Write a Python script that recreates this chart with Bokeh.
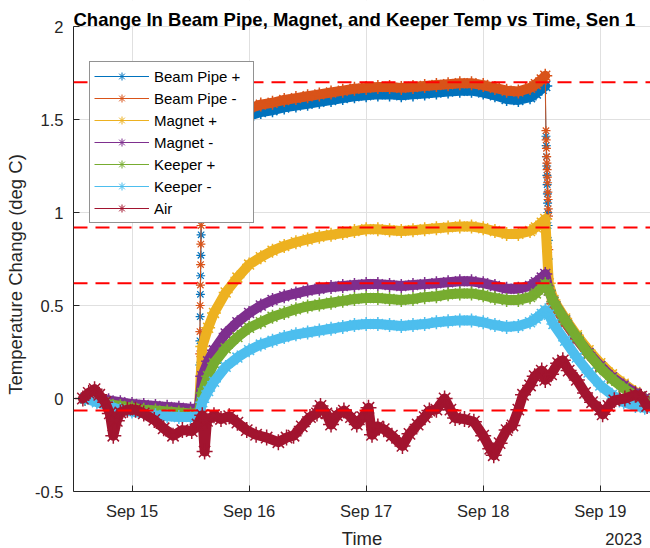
import numpy as np
from datetime import datetime, timedelta
from bokeh.plotting import figure
from bokeh.models import (ColumnDataSource, Range1d, FixedTicker, DatetimeTickFormatter,
                          CustomJSTickFormatter, Span, Legend, LegendItem, Label, BoxAnnotation)
from bokeh.embed import file_html
from bokeh.resources import INLINE

NAN = float("nan")

# ---------------- data (time = fractional day of September 2023) ----------------
t_main = [14.60, 14.70, 14.80, 14.90, 15.00, 15.10, 15.20, 15.30, 15.40, 15.50, 15.57,
          15.60, 15.65, 15.70, 15.80, 15.90, 16.00, 16.10, 16.20, 16.30, 16.40, 16.50,
          16.60, 16.70, 16.80, 16.90, 17.00, 17.10, 17.20, 17.30, 17.40, 17.50, 17.60,
          17.70, 17.80, 17.90, 18.00, 18.10, 18.20, 18.30, 18.40, 18.45, 18.50, 18.53,
          18.56, 18.60, 18.70, 18.80, 18.90, 19.00, 19.10, 19.20, 19.30, 19.38]

beam_pipe_plus = [0.00, -0.01, -0.02, -0.03, -0.04, -0.05, -0.055, -0.06, -0.065, -0.07, -0.07,
                  NAN, 1.47, 1.48, 1.49, 1.50, 1.52, 1.54, 1.55, 1.565, 1.575, 1.585,
                  1.595, 1.605, 1.615, 1.625, 1.63, 1.635, 1.635, 1.63, 1.635, 1.64, 1.645,
                  1.65, 1.655, 1.655, 1.645, 1.63, 1.61, 1.605, 1.62, 1.64, 1.665, 1.68,
                  NAN, 0.51, 0.41, 0.32, 0.24, 0.17, 0.11, 0.06, 0.02, 0.00]

beam_pipe_minus = [0.00, -0.01, -0.02, -0.03, -0.04, -0.05, -0.055, -0.06, -0.065, -0.07, -0.07,
                   NAN, 1.51, 1.52, 1.53, 1.545, 1.56, 1.58, 1.59, 1.605, 1.615, 1.625,
                   1.635, 1.645, 1.655, 1.665, 1.67, 1.675, 1.675, 1.67, 1.675, 1.68, 1.685,
                   1.69, 1.695, 1.695, 1.685, 1.67, 1.655, 1.65, 1.67, 1.69, 1.715, 1.735,
                   NAN, 0.51, 0.41, 0.32, 0.24, 0.17, 0.11, 0.06, 0.02, 0.00]

magnet_plus = [0.00, -0.01, -0.02, -0.035, -0.045, -0.05, -0.06, -0.065, -0.07, -0.075, -0.075,
               0.28, 0.38, 0.46, 0.57, 0.65, 0.72, 0.76, 0.795, 0.82, 0.84, 0.855,
               0.87, 0.88, 0.89, 0.90, 0.91, 0.91, 0.905, 0.90, 0.905, 0.91, 0.915,
               0.92, 0.925, 0.925, 0.915, 0.90, 0.885, 0.885, 0.90, 0.92, 0.945, 0.965,
               0.62, 0.53, 0.43, 0.34, 0.26, 0.19, 0.13, 0.08, 0.035, 0.00]

magnet_minus = [0.00, 0.00, -0.01, -0.02, -0.03, -0.035, -0.04, -0.045, -0.05, -0.055, -0.055,
                0.12, 0.20, 0.26, 0.35, 0.41, 0.46, 0.50, 0.53, 0.55, 0.565, 0.58,
                0.59, 0.60, 0.605, 0.61, 0.615, 0.615, 0.61, 0.605, 0.61, 0.615, 0.62,
                0.625, 0.63, 0.63, 0.62, 0.605, 0.59, 0.59, 0.605, 0.625, 0.65, 0.67,
                0.58, 0.52, 0.42, 0.325, 0.245, 0.175, 0.115, 0.07, 0.03, 0.00]

keeper_plus = [0.00, -0.01, -0.03, -0.04, -0.05, -0.06, -0.065, -0.07, -0.075, -0.08, -0.08,
               0.03, 0.12, 0.19, 0.27, 0.33, 0.38, 0.41, 0.44, 0.46, 0.48, 0.495,
               0.505, 0.515, 0.525, 0.535, 0.54, 0.54, 0.535, 0.53, 0.535, 0.545, 0.55,
               0.56, 0.565, 0.565, 0.555, 0.54, 0.53, 0.53, 0.545, 0.565, 0.595, 0.615,
               0.58, 0.52, 0.42, 0.33, 0.24, 0.165, 0.105, 0.055, 0.015, -0.01]

keeper_minus = [0.00, -0.02, -0.04, -0.06, -0.07, -0.08, -0.09, -0.095, -0.10, -0.10, -0.095,
                -0.02, 0.04, 0.09, 0.17, 0.22, 0.26, 0.29, 0.31, 0.33, 0.345, 0.355,
                0.365, 0.375, 0.385, 0.395, 0.40, 0.40, 0.395, 0.39, 0.395, 0.40, 0.41,
                0.415, 0.42, 0.42, 0.41, 0.395, 0.385, 0.39, 0.41, 0.43, 0.455, 0.475,
                0.45, 0.40, 0.31, 0.22, 0.14, 0.07, 0.02, -0.02, -0.04, -0.05]

# fast transients of the beam pipe sensors
t_rise = [15.57, 15.578, 15.580, 15.582, 15.584, 15.586, 15.588, 15.590, 15.592, 15.594,
          15.596, 15.598, 15.600, 15.65]
beam_pipe_plus_rise = [-0.07, 0.18, 0.31, 0.44, 0.56, 0.66, 0.77, 0.88, 0.98, 1.10,
                       1.21, 1.32, 1.42, 1.47]
beam_pipe_minus_rise = [-0.07, 0.24, 0.36, 0.50, 0.61, 0.72, 0.83, 0.93, 1.04, 1.16,
                        1.27, 1.37, 1.46, 1.51]
t_fall = [18.53, 18.536, 18.538, 18.540, 18.542, 18.544, 18.546, 18.548, 18.550, 18.552,
          18.554, 18.556, 18.558, 18.560, 18.60]
beam_pipe_plus_fall = [1.68, 1.41, 1.36, 1.30, 1.25, 1.20, 1.15, 1.10, 1.05, 1.00,
                       0.93, 0.85, 0.75, 0.64, 0.51]
beam_pipe_minus_fall = [1.735, 1.44, 1.39, 1.345, 1.30, 1.265, 1.23, 1.19, 1.16, 1.11,
                        1.07, 1.02, 0.98, 0.80, 0.51]

t_air = [14.58, 14.63, 14.68, 14.72, 14.77, 14.81, 14.84, 14.87, 14.90, 14.96, 15.03, 15.10,
         15.19, 15.27, 15.35, 15.43, 15.51, 15.56, 15.60, 15.62, 15.64, 15.70, 15.76, 15.83,
         15.90, 15.98, 16.06, 16.15, 16.25, 16.32, 16.38, 16.45, 16.52, 16.58, 16.61, 16.66,
         16.70, 16.75, 16.81, 16.87, 16.92, 16.97, 17.02, 17.05, 17.10, 17.15, 17.22, 17.31,
         17.37, 17.44, 17.50, 17.54, 17.60, 17.67, 17.72, 17.76, 17.84, 17.92, 18.00, 18.06,
         18.09, 18.14, 18.20, 18.25, 18.30, 18.34, 18.40, 18.44, 18.50, 18.53, 18.58, 18.64,
         18.68, 18.73, 18.80, 18.87, 18.93, 19.00, 19.02, 19.07, 19.12, 19.21, 19.30, 19.35,
         19.40]
air = [0.00, 0.03, 0.05, 0.02, -0.02, -0.08, -0.20, -0.12, -0.075, -0.06, -0.06, -0.08,
       -0.115, -0.16, -0.20, -0.17, -0.175, -0.14, -0.09, -0.285, -0.12, -0.09, -0.11, -0.095,
       -0.13, -0.17, -0.195, -0.21, -0.235, -0.21, -0.20, -0.15, -0.10, -0.08, -0.04, -0.08,
       -0.14, -0.09, -0.065, -0.10, -0.14, -0.10, -0.05, -0.195, -0.15, -0.165, -0.20, -0.255,
       -0.19, -0.14, -0.10, -0.065, -0.06, 0.00, -0.06, -0.105, -0.11, -0.125, -0.20, -0.27,
       -0.305, -0.24, -0.17, -0.145, -0.06, 0.02, 0.07, 0.12, 0.15, 0.10, 0.13, 0.19,
       0.205, 0.15, 0.10, 0.03, -0.02, -0.06, -0.085, -0.04, -0.01, 0.00, 0.02, 0.01,
       -0.04]

ref_levels = [1.70, 0.92, 0.62, -0.065]

series_names = ["Beam Pipe +", "Beam Pipe -", "Magnet +", "Magnet -", "Keeper +", "Keeper -", "Air"]
series_colors = ["#0072BD", "#D95319", "#EDB120", "#7E2F8E", "#77AC30", "#4DBEEE", "#A2142F"]

x_ticks_days = [15, 16, 17, 18, 19]
y_ticks = [-0.5, 0, 0.5, 1, 1.5, 2]
Y_MIN, Y_MAX = -0.5, 2.0
X_MIN_DAY, X_MAX_DAY = 14.5, 19.429


def day(t):
    return datetime(2023, 9, 1) + timedelta(days=t - 1)


def to_ms(dt):
    return (dt - datetime(1970, 1, 1)).total_seconds() * 1000.0


FONT = "Liberation Sans"
AX = "#262626"

W, H = 650, 548
LEFT = 73
TOP_PAD, BOTTOM_PAD = 26, 57          # pixels of the frame above Y_MAX / below Y_MIN
ppu = (H - TOP_PAD - BOTTOM_PAD) / (Y_MAX - Y_MIN)

p = figure(width=W, height=H, x_axis_type="datetime",
           x_range=Range1d(day(X_MIN_DAY), day(X_MAX_DAY)),
           y_range=Range1d(Y_MIN - BOTTOM_PAD / ppu, Y_MAX + TOP_PAD / ppu),
           output_backend="svg", toolbar_location=None,
           min_border_left=LEFT, min_border_right=0, min_border_top=0, min_border_bottom=0)
p.outline_line_color = None
p.background_fill_color = "white"
p.border_fill_color = "white"

# axes
xt = [to_ms(day(d)) for d in x_ticks_days]
p.xaxis.fixed_location = Y_MIN
p.xaxis.ticker = FixedTicker(ticks=xt)
p.xaxis.formatter = DatetimeTickFormatter(days="%b %d", hours="%b %d", months="%b %d",
                                          years="%b %d", minutes="%b %d")
p.yaxis.ticker = FixedTicker(ticks=y_ticks)
p.yaxis.bounds = (Y_MIN, Y_MAX)
p.yaxis.formatter = CustomJSTickFormatter(code="return tick.toString();")
p.xgrid.ticker = FixedTicker(ticks=xt)
p.ygrid.ticker = FixedTicker(ticks=y_ticks)
for g in (p.xgrid, p.ygrid):
    g.grid_line_color = "#e0e0e0"
    g.grid_line_width = 1

for ax in (p.xaxis, p.yaxis):
    ax.axis_line_color = AX
    ax.axis_line_width = 1
    ax.major_tick_line_color = AX
    ax.major_tick_in = 6
    ax.major_tick_out = 0
    ax.minor_tick_line_color = None
    ax.major_label_text_font = FONT
    ax.major_label_text_font_size = "16.5px"
    ax.major_label_text_color = AX
    ax.axis_label_text_font = FONT
    ax.axis_label_text_font_size = "18.5px"
    ax.axis_label_text_font_style = "normal"
    ax.axis_label_text_color = AX

p.xaxis.axis_label = "Time"
p.xaxis.major_label_standoff = 10
p.xaxis.axis_label_standoff = 5
p.yaxis.axis_label = "Temperature Change (deg C)"
p.yaxis.major_label_standoff = 10
p.yaxis.axis_label_standoff = 6

# hide vertical grid lines outside the data area (above Y_MAX, below Y_MIN)
p.add_layout(BoxAnnotation(bottom=Y_MAX + 1.0 / ppu, fill_color="white", fill_alpha=1,
                           line_color=None, level="underlay"))
p.add_layout(BoxAnnotation(top=Y_MIN, fill_color="white", fill_alpha=1,
                           line_color=None, level="underlay"))

# data
main_values = [beam_pipe_plus, beam_pipe_minus, magnet_plus, magnet_minus,
               keeper_plus, keeper_minus]
x_main = [day(t) for t in t_main]
x_rise = [day(t) for t in t_rise]
x_fall = [day(t) for t in t_fall]
x_air = [day(t) for t in t_air]

transients = {0: (beam_pipe_plus_rise, beam_pipe_plus_fall),
              1: (beam_pipe_minus_rise, beam_pipe_minus_fall)}

sources = []
for i, (vals, c) in enumerate(zip(main_values, series_colors[:6])):
    src = ColumnDataSource(dict(x=x_main, y=np.array(vals, dtype=float)))
    sources.append(src)
    p.line("x", "y", source=src, line_color=c, line_width=10, line_join="round", line_cap="round")
    p.scatter("x", "y", source=src, marker="asterisk", size=14, line_color=c, line_width=1.5)
    if i in transients:
        rise, fall = transients[i]
        for xs, ys in ((x_rise, rise), (x_fall, fall)):
            s2 = ColumnDataSource(dict(x=xs, y=ys))
            p.line("x", "y", source=s2, line_color=c, line_width=1)
            p.scatter("x", "y", source=s2, marker="asterisk", size=9, line_color=c, line_width=1.2)

src_air = ColumnDataSource(dict(x=x_air, y=air))
sources.append(src_air)
p.line("x", "y", source=src_air, line_color=series_colors[6], line_width=10,
       line_join="round", line_cap="round")
p.scatter("x", "y", source=src_air, marker="asterisk", size=16,
          line_color=series_colors[6], line_width=1.5)

# dashed reference levels
for lv in ref_levels:
    p.add_layout(Span(location=lv, dimension="width", line_color="#FF0000",
                      line_width=2, line_dash="14 8"))

# legend (thin line + asterisk, like the MATLAB legend); hidden renderers supply the glyphs
items = []
for name, c, src in zip(series_names, series_colors, sources):
    lr = p.line("x", "y", source=src, line_color=c, line_width=1, visible=False)
    sr = p.scatter("x", "y", source=src, marker="asterisk", line_color=c, line_width=1,
                   visible=False)
    items.append(LegendItem(label=name, renderers=[lr, sr]))
legend = Legend(items=items, location=(16, 325))
legend.label_text_font = FONT
legend.label_text_font_size = "15px"
legend.label_text_color = "#000000"
legend.border_line_color = AX
legend.border_line_width = 1
legend.background_fill_color = "white"
legend.background_fill_alpha = 1
legend.inactive_fill_alpha = 0
legend.glyph_width = 55
legend.glyph_height = 20
legend.label_height = 20
legend.label_width = 95
legend.spacing = 2
legend.padding = 4
legend.label_standoff = 5
legend.margin = 0
p.add_layout(legend)

# title and year label (inside the frame area, which spans the whole canvas height)
p.add_layout(Label(x=0, y=H - 18.5, x_units="screen", y_units="screen",
                   text="Change In Beam Pipe, Magnet, and Keeper Temp vs Time, Sen 1",
                   text_font=FONT, text_font_style="bold", text_font_size="18.5px",
                   text_color="#000000", text_align="left", text_baseline="alphabetic"))
p.add_layout(Label(x=W - LEFT - 8.5, y=10, x_units="screen", y_units="screen", text="2023",
                   text_font=FONT, text_font_size="16.5px", text_color=AX,
                   text_align="right", text_baseline="alphabetic"))

open("out.html", "w").write(file_html(p, INLINE))
